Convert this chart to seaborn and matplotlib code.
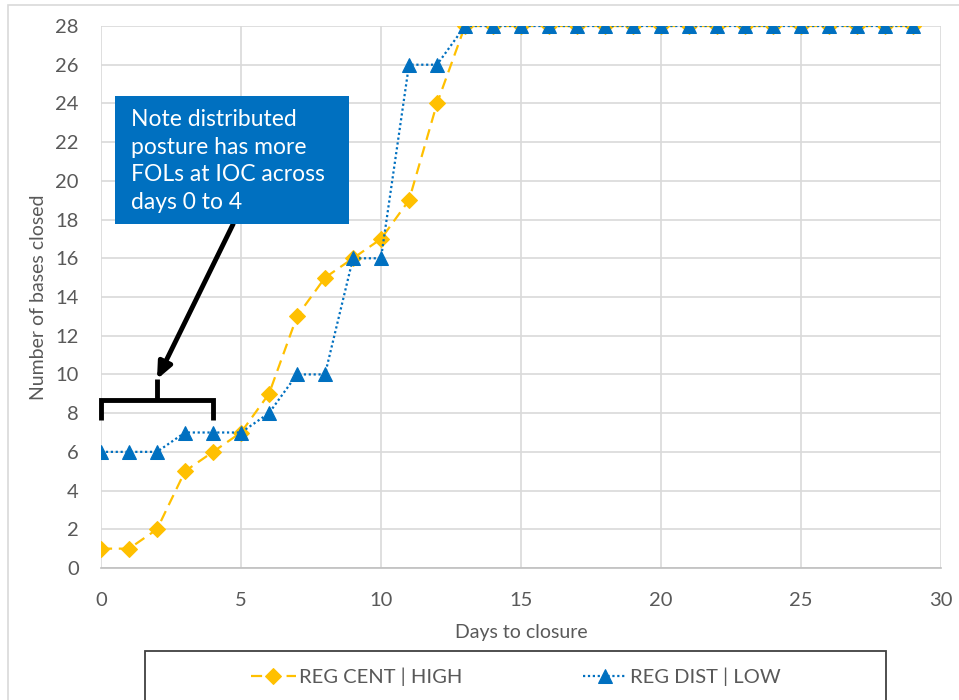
import matplotlib
matplotlib.use("Agg")
import matplotlib.pyplot as plt
import seaborn as sns
import pandas as pd
from matplotlib.patches import Rectangle

days = list(range(0, 30))
reg_cent_high = [1, 1, 2, 5, 6, 7, 9, 13, 15, 16, 17, 19, 24, 28, 28, 28, 28, 28, 28, 28,
                 28, 28, 28, 28, 28, 28, 28, 28, 28, 28]
reg_dist_low = [6, 6, 6, 7, 7, 7, 8, 10, 10, 16, 16, 26, 26, 28, 28, 28, 28, 28, 28, 28,
                28, 28, 28, 28, 28, 28, 28, 28, 28, 28]
series_names = ["REG CENT | HIGH", "REG DIST | LOW"]
x_ticks = [0, 5, 10, 15, 20, 25, 30]
y_ticks = list(range(0, 29, 2))
note_text = "Note distributed\nposture has more\nFOLs at IOC across\ndays 0 to 4"

sns.set_theme(style="white")
plt.rcParams["font.family"] = ["Lato", "DejaVu Sans"]

df = pd.DataFrame({"Days": days * 2,
                   "Bases": reg_cent_high + reg_dist_low,
                   "Series": [series_names[0]] * len(days) + [series_names[1]] * len(days)})

fig = plt.figure(figsize=(9.59, 7.0), dpi=100)
ax = fig.add_axes([101 / 959, 1 - 568 / 700, 840 / 959, 542 / 700])

orange = "#FFC000"
blue = "#0070C0"

sns.lineplot(data=df[df.Series == series_names[0]], x="Days", y="Bases", ax=ax,
             color=orange, linestyle=(0, (5, 3)), linewidth=1.6, marker="D",
             markersize=8, markeredgecolor=orange, label=series_names[0], zorder=3)
sns.lineplot(data=df[df.Series == series_names[1]], x="Days", y="Bases", ax=ax,
             color=blue, linestyle=(0, (1, 1.2)), linewidth=1.6, marker="^",
             markersize=10, markeredgecolor=blue, label=series_names[1], zorder=4)

ax.set_xlim(0, 30)
ax.set_ylim(0, 28)
ax.set_xticks(x_ticks)
ax.set_yticks(y_ticks)
ax.grid(True, color="#d9d9d9", linewidth=1.2)
ax.set_axisbelow(True)
for s in ["top", "right", "left"]:
    ax.spines[s].set_visible(False)
ax.spines["bottom"].set_color("#bfbfbf")
ax.spines["bottom"].set_linewidth(1.2)
ax.tick_params(axis="both", length=0, labelsize=14.5, labelcolor="#595959")
ax.tick_params(axis="x", pad=17)
ax.tick_params(axis="y", pad=16)
ax.set_xlabel("Days to closure", fontsize=14, color="#595959", labelpad=11)
ax.set_ylabel("Number of bases closed", fontsize=14, color="#595959", labelpad=6)
for sp in ax.spines.values():
    sp.set_clip_on(False)

# legend
ax.get_legend().remove()
h, l = ax.get_legend_handles_labels()
leg = fig.legend(h, l, loc="center", bbox_to_anchor=(516 / 959, 1 - 677 / 700),
                 ncol=2, frameon=False, fontsize=14.5, columnspacing=6.0,
                 handlelength=2.2, handletextpad=0.15, labelcolor="#595959")
fig.add_artist(Rectangle((145 / 959, -0.02), 741 / 959, (700 - 651) / 700 + 0.02,
                         transform=fig.transFigure, fill=False,
                         edgecolor="#404040", linewidth=1.3))
# outer chart border
fig.add_artist(Rectangle((8 / 959, -0.02), 1.0, 1 - 5 / 700 + 0.02,
                         transform=fig.transFigure, fill=False,
                         edgecolor="#d9d9d9", linewidth=1.2))

# annotation box
fig.add_artist(Rectangle((115 / 959, 1 - 224 / 700), 234 / 959, 128 / 700,
                         transform=fig.transFigure, facecolor=blue, edgecolor="none",
                         zorder=5))
fig.text(131 / 959, 1 - 161 / 700, note_text, color="white", fontsize=16.5,
         va="center", ha="left", linespacing=1.38, zorder=6)

# bracket and arrow
bx = [0, 0, 4, 4]
by = [7.65, 8.68, 8.68, 7.65]
ax.plot(bx, by, color="black", linewidth=3.5, solid_capstyle="butt",
        solid_joinstyle="miter", clip_on=False, zorder=5)
ax.plot([2, 2], [8.68, 9.75], color="black", linewidth=3.5, solid_capstyle="butt", zorder=5)
ax.annotate("", xy=(2.0, 9.75), xytext=(4.72, 17.77),
            arrowprops=dict(arrowstyle="-|>,head_length=0.8,head_width=0.35",
                            color="black", lw=3.5, shrinkA=0, shrinkB=0), zorder=5)

fig.savefig("out.png", dpi=100)
